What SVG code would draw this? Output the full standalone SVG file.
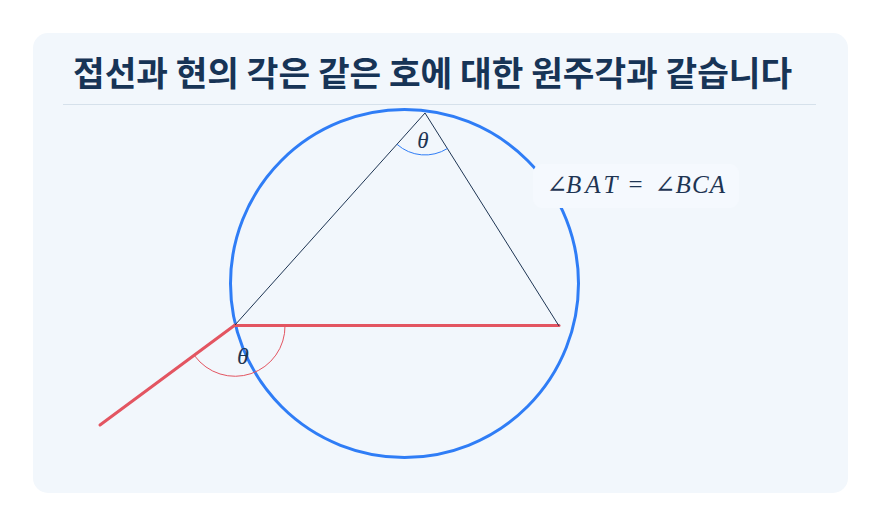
<svg xmlns="http://www.w3.org/2000/svg" width="881" height="526" viewBox="0 0 881 526">
<style>
.title{font-family:"Noto Sans CJK KR","Noto Sans",sans-serif;font-weight:700;font-size:34.4px;fill:#173456}
.math{font-family:"Liberation Serif","DejaVu Serif",serif;fill:#1e3553;font-size:25px}
.it{font-style:italic}
.thin{fill:none;stroke:#1e3553;stroke-width:1}
.red{fill:none;stroke:#e35561;stroke-width:3;stroke-linecap:round}
</style>
<rect width="881" height="526" fill="#ffffff"/>
<rect x="33" y="33" width="815" height="460" rx="15" fill="#f2f7fc"/>
<text class="title" x="73" y="86">접선과 현의 각은 같은 호에 대한 원주각과 같습니다</text>
<line x1="63" y1="104.5" x2="816" y2="104.5" stroke="#d6e1eb" stroke-width="1"/>
<g id="circle">
<circle cx="404.5" cy="283.5" r="174" fill="none" stroke="#2f7df6" stroke-width="3"/>
</g>
<g id="connectors">
<line class="red" x1="100" y1="425" x2="235" y2="325"/>
<line class="red" x1="235" y1="325.5" x2="559" y2="325.5"/>
<line class="thin" x1="235" y1="325" x2="425" y2="113"/>
<line class="thin" x1="425" y1="113" x2="559" y2="326"/>
</g>
<g id="angle-top">
<path d="M447.4 148.5 A42 42 0 0 1 397 144.3" fill="none" stroke="#2f7df6" stroke-width="1"/>
<text class="math it" x="423" y="148" style="font-size:23px" text-anchor="middle">θ</text>
</g>
<g id="angle-bottom">
<path d="M285 325.5 A50 50 0 0 1 194.8 356" fill="none" stroke="#e35561" stroke-width="1"/>
<text class="math it" x="243" y="364" style="font-size:24px" text-anchor="middle">θ</text>
</g>
<g id="label">
<rect x="533" y="164" width="206" height="44" rx="9" fill="#f5f9fe"/>
<text class="math" y="193"><tspan x="546.5">∠</tspan><tspan class="it" x="566" letter-spacing="4">BAT</tspan><tspan x="628.5">=</tspan><tspan x="654.5">∠</tspan><tspan class="it" x="675.5" letter-spacing="1.2">BCA</tspan></text>
</g>
</svg>
